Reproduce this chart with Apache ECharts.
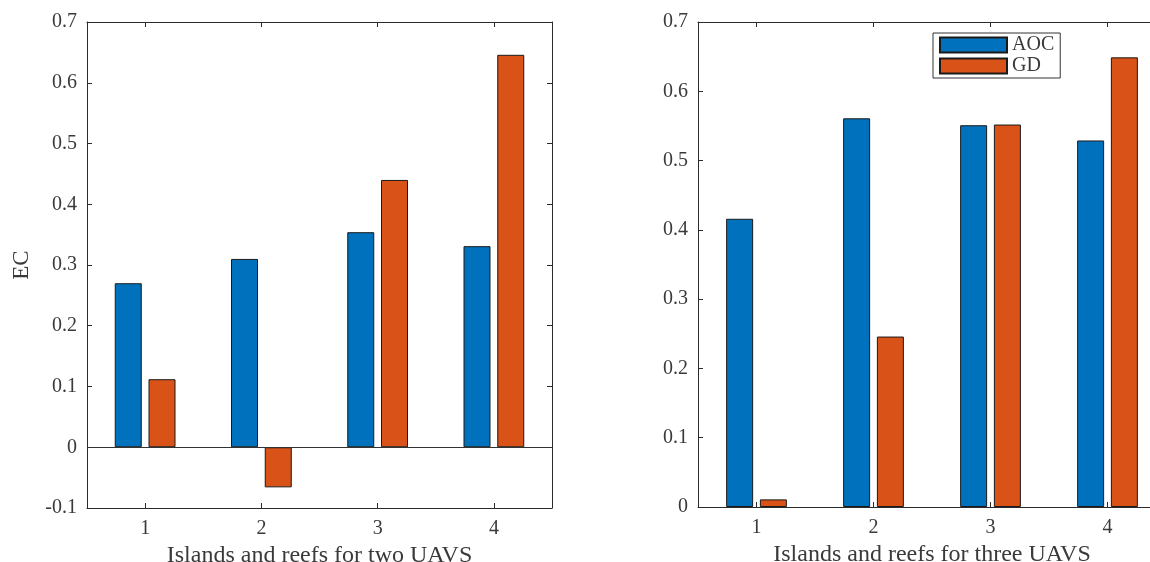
<!DOCTYPE html>
<html>
<head>
<meta charset="utf-8">
<script src="https://cdn.jsdelivr.net/npm/echarts@6/dist/echarts.min.js"></script>
<style>
html,body{margin:0;padding:0;background:#fff;}
#chart{width:1150px;height:562px;}
</style>
</head>
<body>
<div id="chart"></div>
<script>
const categories = ['1', '2', '3', '4'];
const aocTwo = [0.270, 0.310, 0.354, 0.331];
const gdTwo = [0.112, -0.066, 0.440, 0.646];
const aocThree = [0.416, 0.561, 0.551, 0.529];
const gdThree = [0.011, 0.246, 0.552, 0.649];
const seriesNames = ['AOC', 'GD'];
const leftTitle = 'Islands and reefs for two UAVS';
const rightTitle = 'Islands and reefs for three UAVS';
const yName = 'EC';

const FONT = '"Liberation Serif", "Times New Roman", serif';
const AX = '#2b2b2b';
const TXT = '#3a3a3a';
const BLUE = '#0072BD';
const ORANGE = '#D95319';

function fmt(v) { return Math.abs(v) < 1e-9 ? '0' : v.toFixed(1); }

function xAx(gridIndex, pos, showLabel, name) {
  return {
    type: 'category', gridIndex, position: pos, data: categories,
    axisLine: { show: true, onZero: false, lineStyle: { color: AX, width: 1 } },
    axisTick: { show: true, inside: true, alignWithLabel: true, length: 5, lineStyle: { color: AX } },
    axisLabel: { show: showLabel, color: TXT, fontFamily: FONT, fontSize: 20, margin: 11 },
    splitLine: { show: false },
    name: name || '', nameLocation: 'middle', nameGap: 33,
    nameTextStyle: { color: TXT, fontFamily: FONT, fontSize: 24 }
  };
}
function yAx(gridIndex, pos, showLabel, min, name) {
  return {
    type: 'value', gridIndex, position: pos, min: min, max: 0.7, interval: 0.1,
    axisLine: { show: true, onZero: false, lineStyle: { color: AX, width: 1 } },
    axisTick: { show: true, inside: true, length: 5, lineStyle: { color: AX } },
    axisLabel: { show: showLabel, color: TXT, fontFamily: FONT, fontSize: 20, margin: 10, formatter: fmt },
    splitLine: { show: false },
    name: name || '', nameLocation: 'middle', nameGap: 54, nameRotate: 90,
    nameTextStyle: { color: TXT, fontFamily: FONT, fontSize: 23 }
  };
}
function bar(name, data, color, xi, yi, extra) {
  return Object.assign({
    name, type: 'bar', data, xAxisIndex: xi, yAxisIndex: yi,
    barWidth: 27, barGap: '25%',
    itemStyle: { color, borderColor: '#1a1a1a', borderWidth: 1 },
    silent: true, animation: false
  }, extra || {});
}

const chart = echarts.init(document.getElementById('chart'), null, { renderer: 'canvas' });
chart.setOption({
  animation: false,
  backgroundColor: '#fff',
  grid: [
    { left: 87, top: 22, width: 465, height: 486, outerBoundsMode: 'none', containLabel: false },
    { left: 698, top: 22, width: 468, height: 485, outerBoundsMode: 'none', containLabel: false }
  ],
  xAxis: [
    xAx(0, 'bottom', true, leftTitle),
    xAx(0, 'top', false),
    xAx(1, 'bottom', true, rightTitle),
    xAx(1, 'top', false)
  ],
  yAxis: [
    yAx(0, 'left', true, -0.1, yName),
    yAx(0, 'right', false, -0.1),
    yAx(1, 'left', true, 0),
    yAx(1, 'right', false, 0)
  ],
  legend: {
    data: seriesNames, orient: 'vertical', left: 933, top: 33,
    itemWidth: 67, itemHeight: 15, itemGap: 1,
    padding: [2, 6, 2, 6],
    borderColor: '#333', borderWidth: 1, backgroundColor: '#fff',
    icon: 'rect',
    textStyle: { color: TXT, fontFamily: FONT, fontSize: 20 },
    selectedMode: false
  },
  series: [
    bar('AOC', aocTwo, BLUE, 0, 0, {
      markLine: {
        silent: true, symbol: 'none', label: { show: false },
        lineStyle: { color: '#333', width: 1, type: 'solid' },
        data: [{ yAxis: 0 }], animation: false
      }
    }),
    bar('GD', gdTwo, ORANGE, 0, 0),
    bar('AOC', aocThree, BLUE, 2, 2),
    bar('GD', gdThree, ORANGE, 2, 2)
  ]
});
</script>
</body>
</html>
